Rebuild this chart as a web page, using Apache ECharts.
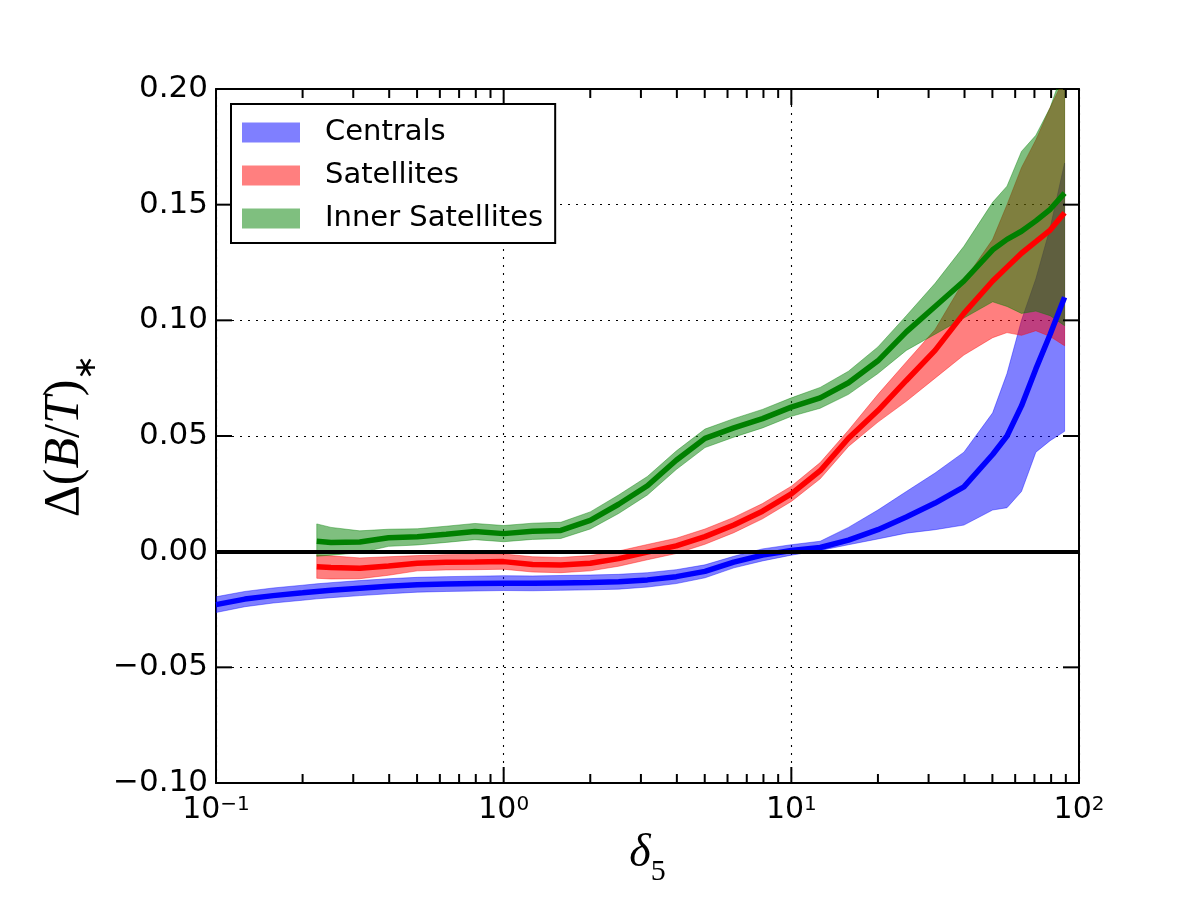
<!DOCTYPE html>
<html>
<head>
<meta charset="utf-8">
<script src="https://cdn.jsdelivr.net/npm/echarts@6/dist/echarts.min.js"></script>
<style>
  html, body { margin: 0; padding: 0; background: #fff; }
  #chart { width: 1200px; height: 900px; }
</style>
</head>
<body>
<div id="chart"></div>
<script>
// delta_5 sample points (log spaced), satellites start at 0.224
const deltaX = [0.1, 0.126, 0.158, 0.2, 0.224, 0.251, 0.316, 0.398, 0.501, 0.631, 0.794,
    1.0, 1.26, 1.58, 2.0, 2.51, 3.16, 3.98, 5.01, 6.31, 7.94,
    10.0, 12.6, 15.8, 20.0, 25.1, 31.6, 39.8, 50.1, 56.2, 63.1, 70.8, 79.4, 89.1]
const satX = deltaX.slice(4)

// Centrals
const cenMean = [-0.0229, -0.0205, -0.0190, -0.0178, -0.0172, -0.0167, -0.0158, -0.0150, -0.0143, -0.0140, -0.0138,
    -0.0136, -0.0137, -0.0135, -0.0133, -0.0130, -0.0122, -0.0108, -0.0085, -0.0045, -0.0015,
    0.0005, 0.0018, 0.0050, 0.0095, 0.0150, 0.0210, 0.0280, 0.0420, 0.0500, 0.0630, 0.0790, 0.0940, 0.1100]
const cenUpper = [-0.0195, -0.0172, -0.0157, -0.0145, -0.0139, -0.0134, -0.0125, -0.0117, -0.0111, -0.0108, -0.0106,
    -0.0104, -0.0105, -0.0103, -0.0101, -0.0098, -0.0091, -0.0078, -0.0057, -0.0020, 0.0012,
    0.0030, 0.0045, 0.0105, 0.0180, 0.0260, 0.0340, 0.0430, 0.0600, 0.0770, 0.1000, 0.1180, 0.1400, 0.1680]
const cenLower = [-0.0263, -0.0238, -0.0222, -0.0210, -0.0204, -0.0199, -0.0190, -0.0182, -0.0175, -0.0172, -0.0170,
    -0.0168, -0.0169, -0.0167, -0.0165, -0.0162, -0.0153, -0.0138, -0.0113, -0.0070, -0.0040,
    -0.0015, 0.0005, 0.0030, 0.0055, 0.0080, 0.0095, 0.0115, 0.0180, 0.0190, 0.0260, 0.0430, 0.0480, 0.0520]

// Satellites
const satMean = [-0.0065, -0.0068, -0.0072, -0.0062, -0.0050, -0.0046, -0.0045, -0.0043, -0.0055, -0.0058,
    -0.0050, -0.0030, -0.0002, 0.0025, 0.0065, 0.0115, 0.0175, 0.0250, 0.0350, 0.0490,
    0.0610, 0.0740, 0.0870, 0.1030, 0.1170, 0.1230, 0.1290, 0.1340, 0.1390, 0.1465]
const satUpper = [-0.0015, -0.0018, -0.0027, -0.0022, -0.0017, -0.0013, -0.0012, -0.0010, -0.0022, -0.0025,
    -0.0017, 0.0003, 0.0031, 0.0058, 0.0098, 0.0148, 0.0208, 0.0283, 0.0385, 0.0525,
    0.0680, 0.0820, 0.0960, 0.1170, 0.1350, 0.1500, 0.1660, 0.1780, 0.1920, 0.2050]
const satLower = [-0.0115, -0.0118, -0.0117, -0.0102, -0.0083, -0.0079, -0.0078, -0.0076, -0.0088, -0.0091,
    -0.0083, -0.0063, -0.0035, -0.0008, 0.0032, 0.0082, 0.0142, 0.0217, 0.0315, 0.0455,
    0.0560, 0.0650, 0.0750, 0.0850, 0.0925, 0.0947, 0.0935, 0.0955, 0.0930, 0.0890]

// Inner Satellites
const innMean = [0.0045, 0.0040, 0.0042, 0.0060, 0.0064, 0.0075, 0.0087, 0.0078, 0.0088, 0.0092,
    0.0135, 0.0205, 0.0285, 0.0395, 0.0490, 0.0535, 0.0575, 0.0625, 0.0665, 0.0730,
    0.0825, 0.0950, 0.1060, 0.1170, 0.1305, 0.1350, 0.1385, 0.1430, 0.1480, 0.1550]
const innUpper = [0.0120, 0.0105, 0.0090, 0.0097, 0.0099, 0.0110, 0.0122, 0.0113, 0.0123, 0.0127,
    0.0172, 0.0245, 0.0325, 0.0435, 0.0530, 0.0575, 0.0615, 0.0665, 0.0710, 0.0780,
    0.0885, 0.1020, 0.1160, 0.1320, 0.1510, 0.1580, 0.1730, 0.1800, 0.1920, 0.2100]
const innLower = [-0.0020, -0.0015, -0.0005, 0.0023, 0.0029, 0.0040, 0.0052, 0.0043, 0.0053, 0.0057,
    0.0098, 0.0165, 0.0245, 0.0355, 0.0450, 0.0495, 0.0535, 0.0585, 0.0620, 0.0680,
    0.0770, 0.0870, 0.0940, 0.1010, 0.1080, 0.1060, 0.1030, 0.1040, 0.1020, 0.0977]

// tick positions
const majorTicksX = [0.1, 1, 10, 100]
const minorTicksX = [0.2, 0.3, 0.4, 0.5, 0.6, 0.7, 0.8, 0.9, 2, 3, 4, 5, 6, 7, 8, 9,
    20, 30, 40, 50, 60, 70, 80, 90]
const ticksY = [-0.10, -0.05, 0.00, 0.05, 0.10, 0.15, 0.20]

const X_MIN = 0.1, X_MAX = 100
const Y_MIN = -0.1, Y_MAX = 0.2

const FONT = 'DejaVu Sans'
const MATH = 'Liberation Serif'

function pairs(xs, ys) {
    return xs.map((x, i) => [x, ys[i]])
}

// 误差带: 一个多边形, 上边界正向 + 下边界反向
function band(name, xs, lower, upper, color) {
    return {
        name: name,
        type: 'custom',
        data: xs.map((x, i) => [x, lower[i], upper[i]]),
        encode: { x: 0, y: [1, 2] },
        itemStyle: { color: color },
        clip: true,
        silent: true,
        z: 2,
        renderItem: function (params, api) {
            if (params.dataIndexInside !== 0) return
            const n = params.dataInsideLength
            const top = []
            const bottom = []
            for (let i = 0; i < n; i++) {
                top.push(api.coord([api.value(0, i), api.value(2, i)]))
                bottom.push(api.coord([api.value(0, i), api.value(1, i)]))
            }
            return {
                type: 'polygon',
                shape: { points: top.concat(bottom.reverse()) },
                style: { fill: color, stroke: color, lineWidth: 0.8 }
            }
        }
    }
}

function meanLine(name, xs, ys, color) {
    return {
        name: name + ' mean',
        type: 'line',
        data: pairs(xs, ys),
        symbol: 'none',
        color: color,
        lineStyle: { color: color, width: 5.5 },
        silent: true,
        z: 3
    }
}

// 刻度: 朝内, 上下 (或左右) 两边都画
function tickLine(p, dx, dy) {
    return {
        type: 'line',
        shape: { x1: p[0], y1: p[1], x2: p[0] + dx, y2: p[1] + dy },
        style: { stroke: '#000', lineWidth: 2 }
    }
}

function xTicks(values, len) {
    return {
        type: 'custom',
        data: values.map(v => [v, Y_MIN]),
        encode: { x: 0, y: 1 },
        silent: true,
        z: 5,
        renderItem: function (params, api) {
            const x = api.value(0)
            const b = api.coord([x, Y_MIN])
            const t = api.coord([x, Y_MAX])
            return { type: 'group', children: [tickLine(b, 0, -len), tickLine(t, 0, len)] }
        }
    }
}

function yTicks(values, len) {
    return {
        type: 'custom',
        data: values.map(v => [X_MIN, v]),
        encode: { x: 0, y: 1 },
        silent: true,
        z: 5,
        renderItem: function (params, api) {
            const y = api.value(1)
            const l = api.coord([X_MIN, y])
            const r = api.coord([X_MAX, y])
            return { type: 'group', children: [tickLine(l, len, 0), tickLine(r, -len, 0)] }
        }
    }
}

const dotted = { color: '#000', width: 1.1, type: [2, 6] }
const frame = { show: true, onZero: false, lineStyle: { color: '#000', width: 2 } }

const supRich = {
    b: { fontSize: 30, fontFamily: FONT, color: '#000', verticalAlign: 'bottom' },
    s: { fontSize: 20, fontFamily: FONT, color: '#000', verticalAlign: 'top' }
}

const xBase = { type: 'log', logBase: 10, min: X_MIN, max: X_MAX, gridIndex: 0 }
const yBase = { type: 'value', min: Y_MIN, max: Y_MAX, interval: 0.05, gridIndex: 0 }

const greenLine = meanLine('Inner Satellites', satX, innMean, '#008000')
greenLine.markLine = {
    silent: true,
    symbol: ['none', 'none'],
    label: { show: false },
    lineStyle: { color: '#000', width: 4, type: 'solid' },
    data: [{ yAxis: 0 }]
}

const chart = echarts.init(document.getElementById('chart'))
chart.setOption({
    animation: false,
    backgroundColor: '#fff',
    grid: { left: 216, right: 121, top: 89, bottom: 117 },
    legend: {
        data: ['Centrals', 'Satellites', 'Inner Satellites'],
        orient: 'vertical',
        left: 231,
        top: 104,
        icon: 'rect',
        itemWidth: 58,
        itemHeight: 20,
        itemGap: 10,
        selectedMode: false,
        itemStyle: { borderWidth: 0 },
        textStyle: { fontSize: 29, fontFamily: FONT, color: '#000', padding: [0, 0, 0, 20], lineHeight: 33 },
        borderColor: '#000',
        borderWidth: 2,
        borderRadius: 0,
        backgroundColor: '#fff',
        padding: [12, 12, 8, 11],
        z: 6
    },
    xAxis: [
        Object.assign({}, xBase, {
            position: 'bottom',
            axisLine: frame,
            axisTick: { show: false },
            axisLabel: {
                margin: 12,
                formatter: function (v) {
                    const e = Math.round(Math.log10(v))
                    return '{b|10}{s|' + (e < 0 ? '\u2212' + (-e) : e) + '}'
                },
                rich: supRich
            },
            splitLine: { show: true, lineStyle: dotted },
            name: '{i|\u03b4}{s|5}',
            nameLocation: 'middle',
            nameGap: 48,
            nameTextStyle: {
                rich: {
                    i: { fontSize: 46, fontFamily: MATH, fontStyle: 'italic', color: '#000', verticalAlign: 'bottom' },
                    s: { fontSize: 30, fontFamily: MATH, color: '#000', verticalAlign: 'bottom', padding: [0, 0, -10, 0] }
                }
            }
        }),
        Object.assign({}, xBase, {
            position: 'top',
            axisLine: frame,
            axisTick: { show: false },
            axisLabel: { show: false },
            splitLine: { show: false }
        })
    ],
    yAxis: [
        Object.assign({}, yBase, {
            position: 'left',
            axisLine: frame,
            axisTick: { show: false },
            axisLabel: {
                fontSize: 31,
                fontFamily: FONT,
                color: '#000',
                margin: 8,
                formatter: v => v.toFixed(2).replace('-', '\u2212')
            },
            splitLine: { show: true, lineStyle: dotted },
            name: '{d|\u0394(}{i|B}{d|/}{i|T}{d|)}{s|\u2217}',
            nameLocation: 'middle',
            nameRotate: 90,
            nameGap: 120,
            nameTextStyle: {
                rich: {
                    d: { fontSize: 50, fontFamily: MATH, color: '#000', verticalAlign: 'bottom' },
                    i: { fontSize: 50, fontFamily: MATH, fontStyle: 'italic', color: '#000', verticalAlign: 'bottom' },
                    s: { fontSize: 30, fontFamily: MATH, color: '#000', verticalAlign: 'bottom', padding: [0, 0, -12, 0] }
                }
            }
        }),
        Object.assign({}, yBase, {
            position: 'right',
            axisLine: frame,
            axisTick: { show: false },
            axisLabel: { show: false },
            splitLine: { show: false }
        })
    ],
    series: [
        band('Centrals', deltaX, cenLower, cenUpper, 'rgba(0,0,255,0.5)'),
        band('Satellites', satX, satLower, satUpper, 'rgba(255,0,0,0.5)'),
        band('Inner Satellites', satX, innLower, innUpper, 'rgba(0,128,0,0.5)'),
        meanLine('Centrals', deltaX, cenMean, '#0000ff'),
        meanLine('Satellites', satX, satMean, '#ff0000'),
        greenLine,
        xTicks(majorTicksX, 16),
        xTicks(minorTicksX, 9),
        yTicks(ticksY, 16)
    ]
})
</script>
</body>
</html>
